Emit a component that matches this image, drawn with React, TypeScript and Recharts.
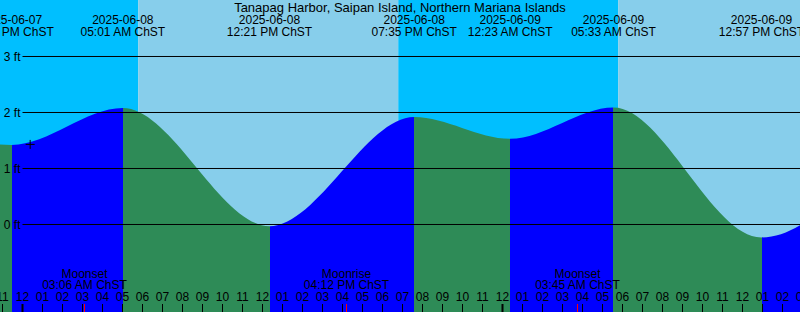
import { ComposedChart, Area, Scatter, XAxis, YAxis, ReferenceArea, ReferenceLine } from "recharts";

// station + tide extremes (local time, ChST), heights in ft
const station = "Tanapag Harbor, Saipan Island, Northern Mariana Islands";

const tideTimes = [
  "2025-06-07 17:40",
  "2025-06-07 23:27",
  "2025-06-08 05:01",
  "2025-06-08 12:21",
  "2025-06-08 19:35",
  "2025-06-09 00:23",
  "2025-06-09 05:33",
  "2025-06-09 12:57",
  "2025-06-09 20:10",
];
const tideHeights = [1.95, 1.42, 2.08, -0.03, 1.92, 1.53, 2.09, -0.23, 2.0];

// sun + moon
const sunriseTimes = ["2025-06-08 05:47", "2025-06-09 05:47"];
const sunsetTimes = ["2025-06-07 18:47", "2025-06-08 18:47", "2025-06-09 18:48"];
const moonTimes = ["2025-06-08 03:06", "2025-06-08 16:12", "2025-06-09 03:45"];
const moonEvents = ["Moonset", "Moonrise", "Moonset"];

// current time marker
const nowTime = "2025-06-08 00:23";
const nowHeight = 1.43;

const heightTicks = [0, 1, 2, 3];
const hourTicks = Array.from({ length: 41 }, (_, i) => i - 1);

// axes windows (hours from 2025-06-08 00:00, ft)
const xDomain = [-1.125, 38.875];
const yDomain = [-1.5625, 4.0089];

const W = 800;
const H = 312;

const DAY = "#87CEEB";
const NIGHT = "#00BFFF";
const FLOOD = "#0000FF";
const EBB = "#2E8B57";
const FONT = "'Liberation Sans', Arial, sans-serif";

// helpers
function toHours(s: string) {
  const [d, hm] = s.split(" ");
  const day = Number(d.slice(8, 10));
  const [hh, mm] = hm.split(":").map(Number);
  return (day - 8) * 24 + hh + mm / 60;
}

function fmtTime(s: string) {
  const [hh, mm] = s.split(" ")[1].split(":").map(Number);
  const h12 = String(hh % 12 || 12).padStart(2, "0");
  return `${h12}:${String(mm).padStart(2, "0")} ${hh < 12 ? "AM" : "PM"} ChST`;
}

const inView = (t: number) => t >= xDomain[0] && t <= xDomain[1];

const tideData = tideTimes.map((s, i) => ({ t: toHours(s), h: tideHeights[i] }));

const extremeLabels = tideTimes
  .map((s) => ({ t: toHours(s), top: yDomain[1], date: s.split(" ")[0], time: fmtTime(s) }))
  .filter((d) => inView(d.t));

const moonData = moonTimes.map((s, i) => ({
  t: toHours(s),
  bottom: yDomain[0],
  name: moonEvents[i],
  time: fmtTime(s),
}));

const hourData = hourTicks.map((t) => ({ t, bottom: yDomain[0] }));

const nowData = [{ t: toHours(nowTime), h: nowHeight }];

const nights = sunriseTimes.map((s, i) => [toHours(sunsetTimes[i]), toHours(s)]);
const days = sunriseTimes.map((s, i) => [toHours(s), toHours(sunsetTimes[i + 1])]);

// flood / ebb gradient stops
const frac = (t: number) => Math.min(1, Math.max(0, (t - xDomain[0]) / (xDomain[1] - xDomain[0])));
const tideStops: { o: number; c: string }[] = [];
for (let i = 0; i < tideData.length - 1; i++) {
  const c = tideData[i + 1].h > tideData[i].h ? FLOOD : EBB;
  tideStops.push({ o: frac(tideData[i].t), c }, { o: frac(tideData[i + 1].t), c });
}

const ExtremeLabel = (p: any) => (
  <g>
    <text x={p.cx} y={p.cy + 24} textAnchor="middle" fontSize={12} fill="#000" fontFamily={FONT}>
      {p.payload.date}
    </text>
    <text x={p.cx} y={p.cy + 36} textAnchor="middle" fontSize={12} fill="#000" fontFamily={FONT}>
      {p.payload.time}
    </text>
  </g>
);

const MoonMark = (p: any) => (
  <g>
    <text x={p.cx} y={p.cy - 34} textAnchor="middle" fontSize={12} fill="#000" fontFamily={FONT}>
      {p.payload.name}
    </text>
    <text x={p.cx} y={p.cy - 23} textAnchor="middle" fontSize={12} fill="#000" fontFamily={FONT}>
      {p.payload.time}
    </text>
    <line x1={p.cx} x2={p.cx} y1={p.cy - 8} y2={p.cy} stroke="#FF0000" strokeWidth={1} />
  </g>
);

const NowMark = (p: any) => (
  <g stroke="#000" strokeWidth={1}>
    <line x1={p.cx - 4.5} x2={p.cx + 4.5} y1={p.cy} y2={p.cy} />
    <line x1={p.cx} x2={p.cx} y1={p.cy - 4.5} y2={p.cy + 4.5} />
  </g>
);

// hour labels + ticks along the bottom edge
const HourMark = (p: any) => {
  const h = p.payload.t;
  const hh = ((h % 24) + 24) % 24;
  const label = String(hh % 12 || 12).padStart(2, "0");
  return (
    <g>
      <text x={p.cx} y={p.cy - 11} textAnchor="middle" fontSize={12} fill="#000" fontFamily={FONT}>
        {label}
      </text>
      <line x1={p.cx} x2={p.cx} y1={p.cy - 8} y2={p.cy} stroke="#000" strokeWidth={hh === 0 ? 2 : 1} />
    </g>
  );
};

export default function App() {
  return (
    <div style={{ position: "absolute", left: 0, top: 0, width: W, height: H, fontFamily: FONT }}>
      <ComposedChart width={W} height={H} margin={{ top: 0, right: 0, bottom: 0, left: 0 }}>
        <defs>
          <linearGradient id="tideFill" gradientUnits="userSpaceOnUse" x1={0} y1={0} x2={W} y2={0}>
            {tideStops.map((s, i) => (
              <stop key={i} offset={s.o} stopColor={s.c} />
            ))}
          </linearGradient>
        </defs>

        <XAxis type="number" dataKey="t" domain={xDomain} allowDataOverflow hide />
        <YAxis type="number" domain={yDomain} allowDataOverflow hide />

        {/* sky: night / day */}
        {nights.map(([a, b], i) => (
          <ReferenceArea key={"n" + i} x1={a} x2={b} fill={NIGHT} fillOpacity={1} stroke="none" ifOverflow="hidden" />
        ))}
        {days.map(([a, b], i) => (
          <ReferenceArea key={"d" + i} x1={a} x2={b} fill={DAY} fillOpacity={1} stroke="none" ifOverflow="hidden" />
        ))}

        {/* water */}
        <Area
          data={tideData}
          dataKey="h"
          type="monotone"
          baseValue={yDomain[0]}
          fill="url(#tideFill)"
          fillOpacity={1}
          stroke="none"
          isAnimationActive={false}
        />

        {/* height lines */}
        {heightTicks.map((v) => (
          <ReferenceLine
            key={v}
            segment={[
              { x: 0, y: v },
              { x: xDomain[1], y: v },
            ]}
            stroke="#000"
            strokeWidth={1}
            label={{ value: `${v} ft`, position: "left", offset: 2, fill: "#000", fontSize: 12 }}
          />
        ))}

        <Scatter data={extremeLabels} dataKey="top" shape={ExtremeLabel} isAnimationActive={false} />
        <Scatter data={hourData} dataKey="bottom" shape={HourMark} isAnimationActive={false} />
        <Scatter data={moonData} dataKey="bottom" shape={MoonMark} isAnimationActive={false} />
        <Scatter data={nowData} dataKey="h" shape={NowMark} isAnimationActive={false} />
      </ComposedChart>
      <div
        style={{
          position: "absolute",
          left: 0,
          top: 0,
          width: W,
          textAlign: "center",
          fontSize: 13,
          lineHeight: "15px",
          color: "#000",
        }}
      >
        {station}
      </div>
    </div>
  );
}
